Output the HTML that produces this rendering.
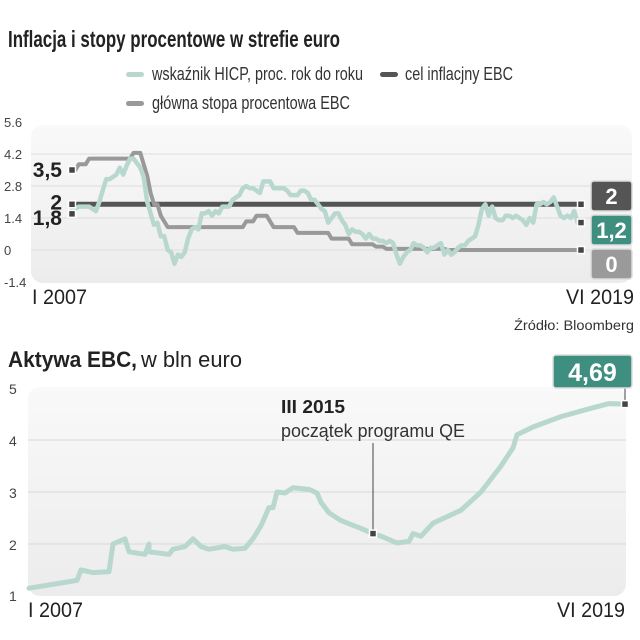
<!DOCTYPE html>
<html><head><meta charset="utf-8"><style>
body{margin:0;background:#fff;}
svg{display:block;font-family:"Liberation Sans",sans-serif;}
</style></head><body>
<svg id="s" width="640" height="640" viewBox="0 0 640 640">
<defs>
<linearGradient id="g1" x1="0" y1="0" x2="0" y2="1"><stop offset="0" stop-color="#f9f9f9"/><stop offset="1" stop-color="#ececed"/></linearGradient>
</defs>
<text x="8" y="47" font-size="23" font-weight="bold" fill="#222" textLength="332" lengthAdjust="spacingAndGlyphs">Inflacja i stopy procentowe w strefie euro</text>
<g>
<g><rect x="126" y="72" width="18" height="5" rx="2.5" fill="#b8d8cf"/><text x="152" y="80" font-size="18" fill="#333" textLength="211" lengthAdjust="spacingAndGlyphs">wskaźnik HICP, proc. rok do roku</text></g>
<g><rect x="380" y="72" width="18" height="5" rx="2.5" fill="#555"/><text x="405" y="80" font-size="18" fill="#333" textLength="108" lengthAdjust="spacingAndGlyphs">cel inflacjny EBC</text></g>
<g><rect x="126" y="101" width="18" height="5" rx="2.5" fill="#999"/><text x="152" y="109" font-size="18" fill="#333" textLength="198" lengthAdjust="spacingAndGlyphs">główna stopa procentowa EBC</text></g>
</g>
<rect x="31" y="125" width="601" height="158" rx="12" fill="url(#g1)"/>
<g id="c1"></g>
<text x="32" y="304" font-size="21" fill="#222" textLength="55" lengthAdjust="spacingAndGlyphs">I 2007</text>
<text x="566" y="304" font-size="21" fill="#222" textLength="68" lengthAdjust="spacingAndGlyphs">VI 2019</text>
<text x="514" y="330" font-size="14" fill="#333" textLength="120" lengthAdjust="spacingAndGlyphs">Źródło: Bloomberg</text>
<text x="8" y="367" font-size="22" fill="#222"><tspan font-weight="bold" textLength="129" lengthAdjust="spacingAndGlyphs">Aktywa EBC,</tspan><tspan dx="4" textLength="101" lengthAdjust="spacingAndGlyphs">w bln euro</tspan></text>
<rect x="28" y="387" width="598" height="209" rx="12" fill="url(#g1)"/>
<g id="c2"></g>
<text x="28" y="617" font-size="21" fill="#222" textLength="55" lengthAdjust="spacingAndGlyphs">I 2007</text>
<text x="557" y="617" font-size="21" fill="#222" textLength="68" lengthAdjust="spacingAndGlyphs">VI 2019</text>
<text x="281" y="413" font-size="18" font-weight="bold" fill="#222" textLength="64" lengthAdjust="spacingAndGlyphs">III 2015</text>
<text x="281" y="437" font-size="18" fill="#333" textLength="184" lengthAdjust="spacingAndGlyphs">początek programu QE</text>
</svg>
<script>
const NS="http://www.w3.org/2000/svg";
// chart 1 data (monthly from I 2007)
const hicp=[1.8,1.8,1.9,1.9,1.9,1.9,1.8,1.7,2.1,2.6,3.1,3.1,
3.2,3.3,3.6,3.3,3.7,4.0,4.0,3.8,3.6,3.2,2.1,1.6,
1.1,1.2,0.6,0.6,0.0,-0.1,-0.6,-0.2,-0.3,-0.1,0.5,0.9,
1.0,0.9,1.6,1.6,1.7,1.5,1.7,1.6,1.9,1.9,1.9,2.2,
2.3,2.4,2.7,2.8,2.7,2.7,2.6,2.5,3.0,3.0,3.0,2.7,
2.7,2.7,2.7,2.6,2.4,2.4,2.4,2.6,2.6,2.5,2.2,2.2,
2.0,1.8,1.7,1.2,1.4,1.6,1.6,1.3,1.1,0.7,0.9,0.8,
0.8,0.7,0.5,0.7,0.5,0.5,0.4,0.4,0.3,0.4,0.3,-0.2,
-0.6,-0.3,-0.1,0.0,0.3,0.2,0.2,0.1,-0.1,0.1,0.1,0.2,
0.3,-0.2,0.0,-0.2,-0.1,0.1,0.2,0.2,0.4,0.5,0.6,1.1,
1.8,2.0,1.5,1.9,1.4,1.3,1.3,1.5,1.5,1.4,1.5,1.4,
1.3,1.1,1.4,1.2,2.0,2.0,2.1,2.0,2.1,2.3,1.9,1.5,
1.4,1.5,1.4,1.7,1.2,1.2];
const rate=[3.5,3.5,3.75,3.75,3.75,4,4,4,4,4,4,4,
4,4,4,4,4,4,4.25,4.25,4.25,3.75,3.25,2.5,
2,2,1.5,1.25,1,1,1,1,1,1,1,1,
1,1,1,1,1,1,1,1,1,1,1,1,
1,1,1,1.25,1.25,1.25,1.5,1.5,1.5,1.5,1.25,1,
1,1,1,1,1,1,0.75,0.75,0.75,0.75,0.75,0.75,
0.75,0.75,0.75,0.75,0.5,0.5,0.5,0.5,0.5,0.5,0.25,0.25,
0.25,0.25,0.25,0.25,0.25,0.15,0.15,0.15,0.05,0.05,0.05,0.05,
0.05,0.05,0.05,0.05,0.05,0.05,0.05,0.05,0.05,0.05,0.05,0.05,
0.05,0.05,0,0,0,0,0,0,0,0,0,0,
0,0,0,0,0,0,0,0,0,0,0,0,
0,0,0,0,0,0,0,0,0,0,0,0,
0,0,0,0,0,0];
const target=[2];
const y1Ticks=[5.6,4.2,2.8,1.4,0,-1.4];
const y1Labels=["5.6","4.2","2.8","1.4","0","-1.4"];
// chart 2 data
const assetMonths=[0,8,12,13,16,20,21,24,25,29,30,30,35,36,39,41,43,45,49,51,54,56,58,60,61,62,64,66,70,72,73,75,78,83,86,88,92,95,96,98,101,108,113,118,121,122,126,133,140,145,149];
const assetValues=[1.15,1.25,1.3,1.5,1.45,1.47,2.0,2.1,1.85,1.8,2.0,1.85,1.8,1.9,1.95,2.1,1.95,1.9,1.95,1.9,1.92,2.1,2.35,2.7,2.7,3.0,2.98,3.08,3.05,2.98,2.8,2.6,2.45,2.3,2.2,2.15,2.02,2.05,2.2,2.15,2.4,2.65,3.0,3.5,3.85,4.1,4.25,4.45,4.6,4.7,4.69];
const y2Ticks=[5,4,3,2,1];
const qeMonth=86;

const x1=m=>72+m*(581-72)/149;
const y1=v=>250-v*32/1.4;
const x2=m=>29+m*(625-29)/149;
const y2=v=>596-(v-1)*52;
function mk(tag,attrs,parent){const e=document.createElementNS(NS,tag);for(const k in attrs)e.setAttribute(k,attrs[k]);parent.appendChild(e);return e;}
const c1=document.getElementById('c1'),c2=document.getElementById('c2'),svg=document.getElementById('s');
y1Ticks.forEach((t,i)=>{
  if(i>0&&i<5){const l=mk('line',{x1:31,x2:632,y1:y1(t),y2:y1(t),stroke:'#ddd','stroke-width':1},c1);
  
  }
  const tx=mk('text',{x:4,y:y1(t)+5,'font-size':13,fill:'#444'},svg);tx.textContent=y1Labels[i];
  
  
});
function poly(xs,ys,parent,color,w,name){
  const d=xs.map((x,i)=>(i?'L':'M')+x.toFixed(1)+' '+ys[i].toFixed(1)).join('');
  const p=mk('path',{d:d,fill:'none',stroke:color,'stroke-width':w,'stroke-linejoin':'round','stroke-linecap':'round'},parent);
  
  
  return p;
}
const tl=mk('line',{x1:x1(0),x2:x1(149),y1:y1(target[0]),y2:y1(target[0]),stroke:'#555','stroke-width':5},c1);


poly(rate.map((v,i)=>x1(i)),rate.map(v=>y1(v)),c1,'#999',4,'rate-line');
poly(hicp.map((v,i)=>x1(i)),hicp.map(v=>y1(v)),c1,'#b8d8cf',4.5,'hicp-line');
function marker(x,y,parent,name){const r=mk('rect',{x:x-3.5,y:y-3.5,width:7,height:7,fill:'#444',stroke:'#fff','stroke-width':1.5},parent);

}
marker(x1(0),y1(rate[0]),c1,'rate-start-marker');
marker(x1(0),y1(target[0]),c1,'target-start-marker');
marker(x1(0),y1(hicp[0])+5,c1,'hicp-start-marker');
marker(x1(149),y1(target[0]),c1,'target-end-marker');
marker(x1(149),y1(hicp[149]),c1,'hicp-end-marker');
marker(x1(149),y1(rate[149]),c1,'rate-end-marker');
[[String(rate[0]).replace('.',','),y1(rate[0])+7,'rate-start-label'],[String(target[0]),y1(target[0])+5,'target-start-label'],[String(hicp[0]).replace('.',','),y1(hicp[0])+16,'hicp-start-label']].forEach(a=>{
  const t=mk('text',{x:62,y:a[1],'font-size':21,'font-weight':'bold',fill:'#222','text-anchor':'end'},c1);t.textContent=a[0];
  
  
});
[[target[0],'#555',181,'target-end-badge'],[hicp[149],'#3f8f80',215,'hicp-end-badge'],[rate[149],'#9a9a9a',249,'rate-end-badge']].forEach(a=>{
  const g=mk('g',{},c1);
  
  
  mk('rect',{x:591,y:a[2],width:41,height:30,rx:3,fill:a[1],stroke:'#ddd','stroke-width':1.5},g);
  const t=mk('text',{x:611.5,y:a[2]+23,'font-size':22,'font-weight':'bold',fill:'#fff','text-anchor':'middle'},g);
  t.textContent=String(a[0]).replace('.',',');
});
// chart 2
y2Ticks.forEach(t=>{
  if(t>1&&t<5){const l=mk('line',{x1:28,x2:626,y1:y2(t),y2:y2(t),stroke:'#d8d8d8','stroke-width':1},c2);
  
  }
  const tx=mk('text',{x:9,y:y2(t)+(t==1?5:6),'font-size':14,fill:'#444'},svg);tx.textContent=t;
  
  
});
poly(assetMonths.map(m=>x2(m)),assetValues.map(v=>y2(v)),c2,'#b8d8cf',5,'assets-line');
function interp(m){for(let i=1;i<assetMonths.length;i++){if(assetMonths[i]>=m){const a=assetMonths[i-1],b=assetMonths[i];const f=b===a?1:(m-a)/(b-a);return assetValues[i-1]+f*(assetValues[i]-assetValues[i-1]);}}return assetValues[assetValues.length-1];}
const qx=x2(qeMonth),qy=y2(interp(qeMonth));
const al=mk('line',{x1:qx,x2:qx,y1:443,y2:qy,stroke:'#444','stroke-width':1},c2);


marker(qx,qy,c2,'qe-marker');
const lastV=assetValues[assetValues.length-1],lx=x2(assetMonths[assetMonths.length-1]),ly=y2(lastV);
const bl=mk('line',{x1:lx,x2:lx,y1:388,y2:ly,stroke:'#444','stroke-width':1},c2);


marker(lx,ly,c2,'assets-end-marker');
const bg=mk('g',{},c2);


mk('rect',{x:553,y:355,width:79,height:33,rx:3,fill:'#3f8f80',stroke:'#ddd','stroke-width':1.5},bg);
const bt=mk('text',{x:592.5,y:381,'font-size':25,'font-weight':'bold',fill:'#fff','text-anchor':'middle'},bg);
bt.textContent=String(lastV).replace('.',',');
</script>
</body></html>
